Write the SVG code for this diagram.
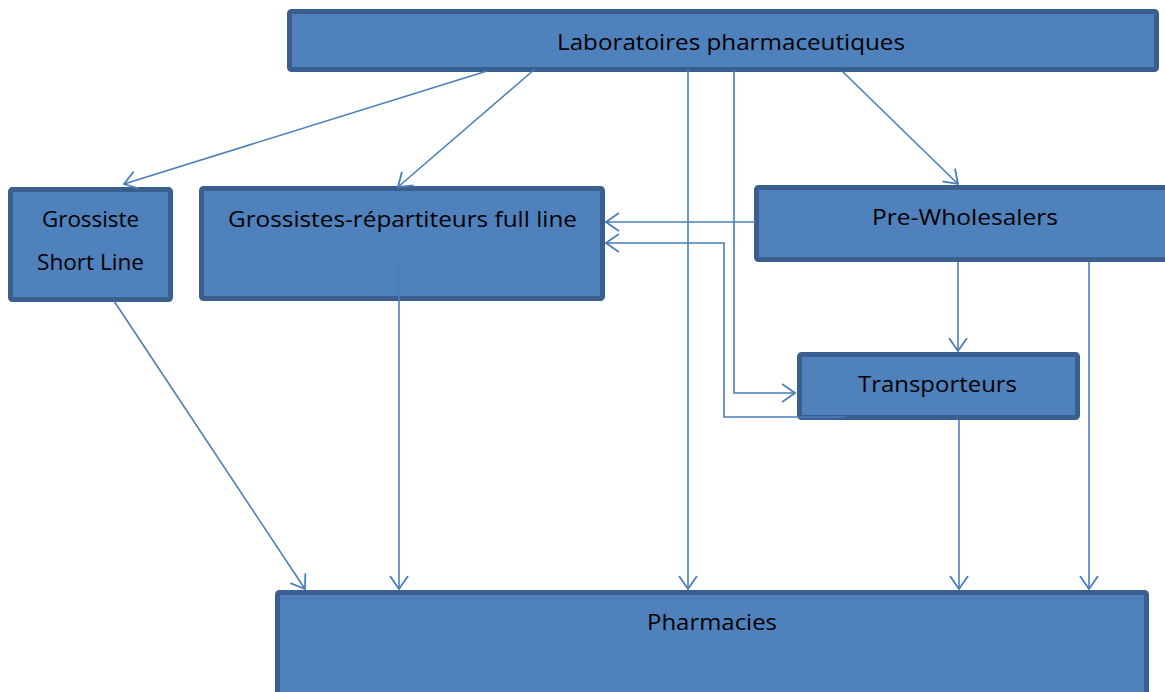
<svg xmlns="http://www.w3.org/2000/svg" width="1165" height="692" viewBox="0 0 1165 692">
<defs>
<style>
.box{fill:#4f81bd;stroke:#3a5f8e;stroke-width:5}
.t{font-family:"Open Sans","Liberation Sans",Arial,sans-serif;font-size:22.5px;fill:#000;text-anchor:middle}
.c{fill:none;stroke:#4a7ebb;stroke-width:1.6}
</style>
<marker id="ah" viewBox="0 0 14 20" refX="13" refY="10" markerWidth="14" markerHeight="20" markerUnits="userSpaceOnUse" orient="auto">
<path d="M0,1 L13,10 L0,19" fill="none" stroke="#4a7ebb" stroke-width="1.8"/>
</marker>
</defs>
<rect width="1165" height="692" fill="#fff"/>
<g id="laboratoires">
<rect class="box" x="289.5" y="11.5" width="867" height="58" rx="2"/>
<text class="t" x="731" y="50" textLength="348" lengthAdjust="spacingAndGlyphs">Laboratoires pharmaceutiques</text>
</g>
<g id="grossiste-short-line">
<rect class="box" x="10.5" y="189.5" width="160" height="110" rx="2"/>
<text class="t" x="90.5" y="227" textLength="97" lengthAdjust="spacingAndGlyphs">Grossiste</text>
<text class="t" x="90.5" y="270" textLength="107" lengthAdjust="spacingAndGlyphs">Short Line</text>
</g>
<g id="grossistes-repartiteurs">
<rect class="box" x="201.5" y="188.5" width="401" height="110" rx="2"/>
<text class="t" x="402.5" y="227" textLength="349" lengthAdjust="spacingAndGlyphs">Grossistes-répartiteurs full line</text>
</g>
<g id="pre-wholesalers">
<rect class="box" x="756.5" y="187.5" width="420" height="72" rx="2"/>
<text class="t" x="965" y="225" textLength="186" lengthAdjust="spacingAndGlyphs">Pre-Wholesalers</text>
</g>
<g id="transporteurs">
<rect class="box" x="799.5" y="354.5" width="278" height="63" rx="2"/>
<text class="t" x="937.5" y="392" textLength="159" lengthAdjust="spacingAndGlyphs">Transporteurs</text>
</g>
<g id="pharmacies">
<rect class="box" x="277.5" y="592.5" width="869" height="110" rx="2"/>
<text class="t" x="712" y="630" textLength="130" lengthAdjust="spacingAndGlyphs">Pharmacies</text>
</g>
<g id="connectors">
<path class="c" d="M487,71 L124,184" marker-end="url(#ah)"/>
<path class="c" d="M535,69 L398,187" marker-end="url(#ah)"/>
<path class="c" d="M688,70 L688,589" marker-end="url(#ah)"/>
<path class="c" d="M734,70 L734,393 L795,393" marker-end="url(#ah)"/>
<path class="c" d="M842,71 L958,184" marker-end="url(#ah)"/>
<path class="c" d="M756,222 L606,222" marker-end="url(#ah)"/>
<path class="c" d="M845,417 L724,417 L724,243 L606,243" marker-end="url(#ah)"/>
<path class="c" d="M399,260 L399,589" marker-end="url(#ah)"/>
<path class="c" d="M114,301 L305,589" marker-end="url(#ah)"/>
<path class="c" d="M958,262 L958,351" marker-end="url(#ah)"/>
<path class="c" d="M1089,262 L1089,589" marker-end="url(#ah)"/>
<path class="c" d="M959,420 L959,589" marker-end="url(#ah)"/>
</g>
</svg>
